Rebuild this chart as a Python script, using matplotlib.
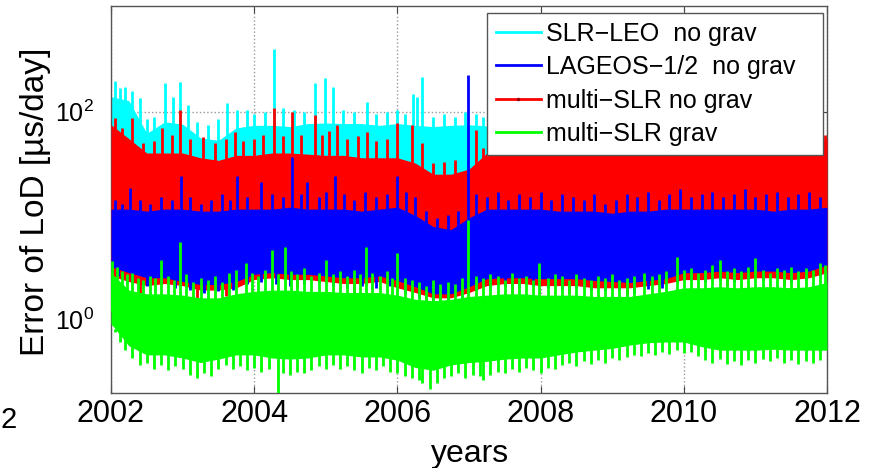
import numpy as np
import matplotlib
matplotlib.use('Agg')
import matplotlib.pyplot as plt
from matplotlib.lines import Line2D

plt.rcParams['font.family'] = ['Liberation Sans', 'DejaVu Sans']
plt.rcParams['mathtext.fontset'] = 'custom'
plt.rcParams['mathtext.rm'] = 'Liberation Sans'
plt.rcParams['mathtext.it'] = 'Liberation Sans:italic'

# ---------------- data ----------------
# sample epochs of the band envelopes (every quarter year)
years = np.linspace(2002.0, 2012.0, 41)

labels = ['SLR\u2212LEO  no grav', 'LAGEOS\u22121/2  no grav',
          'multi\u2212SLR no grav', 'multi\u2212SLR grav']
colors = ['#00FFFF', '#0000FF', '#FF0000', '#00FF00']

# SLR-LEO no grav (cyan)
cyan_top = [140, 128, 62, 80, 76, 56, 53, 70, 74, 74, 72, 77, 78, 77, 77, 74,
            77, 74, 72, 74, 75, 73, 72, 70, 70, 70, 70, 70, 70, 70, 70, 70,
            70, 70, 70, 70, 70, 70, 70, 35, 30]
cyan_low = [20, 20, 20, 20, 20, 20, 20, 20, 20, 20, 20, 20, 20, 20, 20, 20,
            20, 20, 18, 18, 18, 20, 20, 20, 20, 20, 20, 20, 20, 20, 20, 20,
            20, 20, 20, 20, 20, 20, 20, 20, 20]
cyan_spk_t = [2002.05, 2002.12, 2002.2, 2002.3, 2002.4, 2002.5, 2002.6, 2002.75,
              2002.87, 2002.96, 2003.08, 2003.2, 2003.35, 2003.5, 2003.62,
              2003.76, 2003.9, 2004.0, 2004.15, 2004.27, 2004.4, 2004.55,
              2004.7, 2004.85, 2004.99, 2005.1, 2005.24, 2005.4, 2005.58,
              2005.7, 2005.85, 2005.99, 2006.1, 2006.22, 2006.27, 2006.34,
              2006.5, 2006.65, 2006.8, 2006.95, 2007.1, 2007.2]
cyan_spk_v = [200, 170, 175, 160, 135, 85, 90, 190, 140, 195, 117, 80, 75, 85,
              122, 105, 105, 95, 100, 400, 110, 105, 100, 190, 213, 175, 105,
              100, 125, 95, 100, 105, 95, 150, 140, 218, 90, 95, 90, 100, 95, 90]

# multi-SLR no grav (red)
red_top = [75, 55, 40, 40, 40, 36, 34, 38, 38, 40, 40, 39, 38, 38, 36, 36,
           36, 32, 25, 25, 28, 40, 42, 42, 42, 42, 42, 42, 42, 42, 42, 42,
           42, 42, 42, 42, 42, 42, 42, 44, 55]
red_low = [2.6, 2.3, 2.1, 2.2, 2.1, 1.9, 1.9, 2.0, 2.4, 2.5, 2.4, 2.4, 2.3,
           2.2, 2.2, 2.3, 2.0, 1.8, 1.6, 1.6, 1.8, 2.1, 2.2, 2.2, 2.1, 2.1,
           2.1, 2.0, 2.0, 2.0, 2.1, 2.2, 2.4, 2.4, 2.5, 2.4, 2.5, 2.5, 2.4,
           2.5, 2.8]
red_up_t = [2002.05, 2002.15, 2002.3, 2002.45, 2002.6, 2002.71, 2002.85,
            2002.96, 2003.1, 2003.28, 2003.45, 2003.6, 2003.73, 2003.85,
            2004.0, 2004.12, 2004.27, 2004.4, 2004.53, 2004.65, 2004.85,
            2004.95, 2005.05, 2005.16, 2005.3, 2005.45, 2005.58, 2005.7,
            2005.85, 2006.0, 2006.2, 2006.34, 2006.5, 2006.65, 2006.8,
            2007.1, 2007.2, 2011.97]
red_up_v = [87, 70, 87, 50, 52, 70, 60, 105, 55, 57, 50, 55, 64, 52, 55, 60,
            110, 58, 100, 60, 94, 60, 65, 75, 55, 58, 64, 52, 55, 78, 75, 50,
            32, 33, 34, 67, 45, 60]
red_dn_t = [2002.4, 2003.2, 2003.6, 2004.6, 2005.4, 2006.4, 2006.6, 2007.6,
            2008.4, 2009.2, 2010.6, 2011.4]
red_dn_v = [1.8, 1.6, 1.65, 2.0, 1.8, 1.45, 1.4, 1.8, 1.8, 1.7, 2.1, 2.1]

# LAGEOS-1/2 no grav (blue)
blue_top = [11.5, 11.5, 11, 11.5, 11.5, 11, 11, 11.5, 11.5, 11.5, 12, 11.5,
            11.5, 11.5, 11, 11.5, 12, 10, 7.8, 7.3, 9.5, 11.5, 11.5, 11.5,
            11.5, 11, 11, 11, 10.5, 11, 11, 11.5, 11.5, 11.5, 11.5, 11.5,
            11.5, 11, 11.5, 11.5, 12]
blue_low = [3.2, 2.8, 2.5, 2.5, 2.3, 2.15, 2.15, 2.3, 2.7, 2.8, 2.7, 2.7, 2.6,
            2.5, 2.5, 2.6, 2.35, 2.05, 1.75, 1.75, 2.05, 2.45, 2.5, 2.5, 2.45,
            2.45, 2.45, 2.35, 2.3, 2.25, 2.35, 2.45, 2.8, 2.8, 2.9, 2.8, 2.9,
            2.9, 2.8, 2.9, 3.3]
blue_up_t = [2002.05, 2002.15, 2002.27, 2002.4, 2002.55, 2002.7, 2002.85,
             2002.98, 2003.1, 2003.25, 2003.4, 2003.55, 2003.66, 2003.76,
             2003.9, 2004.1, 2004.25, 2004.4, 2004.53, 2004.65, 2004.74,
             2004.9, 2005.0, 2005.13, 2005.25, 2005.4, 2005.55, 2005.7,
             2005.85, 2006.0, 2006.12, 2006.25, 2006.4, 2006.55, 2006.7,
             2006.85, 2006.99, 2007.1, 2007.25, 2007.4, 2007.55, 2007.7,
             2007.85, 2008.0, 2008.15, 2008.3, 2008.45, 2008.6, 2008.75,
             2008.9, 2009.05, 2009.2, 2009.35, 2009.5, 2009.65, 2009.8,
             2009.95, 2010.1, 2010.25, 2010.4, 2010.55, 2010.7, 2010.85,
             2011.0, 2011.15, 2011.3, 2011.45, 2011.6, 2011.75, 2011.9]
blue_up_v = [14, 13, 18.5, 14, 13, 15, 14, 24, 15, 13, 14, 16, 14, 24, 15, 21,
             16, 15, 37, 16, 21, 15, 17, 24, 16, 14, 17, 15, 16, 24, 17, 15,
             11, 9.5, 10, 11, 228, 16, 15, 17, 14, 16, 15, 17, 14, 16, 15, 14,
             16, 13, 14, 16, 15, 17, 14, 16, 18, 15, 16, 17, 15, 16, 18, 15,
             16, 17, 15, 16, 17, 15]
blue_dn_t = [2002.1, 2002.3, 2002.5, 2002.7, 2002.9, 2003.1, 2003.3, 2003.5,
             2003.7, 2003.9, 2004.1, 2004.3, 2004.5, 2004.7, 2004.9, 2005.1,
             2005.3, 2005.5, 2005.7, 2005.9, 2006.1, 2006.3, 2006.5, 2006.7,
             2006.9, 2007.1, 2007.3, 2007.5, 2007.7, 2007.9, 2008.1, 2008.3,
             2008.5, 2008.7, 2008.9, 2009.1, 2009.3, 2009.5, 2009.7, 2009.9,
             2010.1, 2010.3, 2010.5, 2010.7, 2010.9, 2011.1, 2011.3, 2011.5,
             2011.7, 2011.9]
blue_dn_v = [2.6, 2.3, 2.1, 2.2, 2.0, 1.9, 1.8, 1.85, 1.9, 2.2, 2.3, 2.2, 2.1,
             2.2, 2.3, 2.1, 2.0, 2.1, 2.0, 2.1, 1.8, 1.6, 1.45, 1.5, 1.6, 1.9,
             2.0, 2.1, 2.0, 2.1, 2.0, 1.95, 2.0, 1.9, 1.85, 1.9, 1.8, 1.95,
             2.0, 2.3, 2.4, 2.3, 2.4, 2.3, 2.5, 2.4, 2.5, 2.3, 2.4, 2.6]

# multi-SLR grav (green)
green_top = [2.8, 1.9, 1.75, 1.75, 1.7, 1.6, 1.6, 1.75, 1.85, 1.9, 1.9, 1.85,
             1.85, 1.8, 1.8, 1.8, 1.7, 1.55, 1.5, 1.55, 1.65, 1.7, 1.75, 1.75,
             1.7, 1.7, 1.7, 1.65, 1.65, 1.65, 1.75, 1.85, 2.0, 2.0, 2.05, 2.0,
             2.05, 2.05, 2.0, 2.05, 2.25]
green_low = [0.9, 0.55, 0.45, 0.45, 0.42, 0.38, 0.41, 0.45, 0.45, 0.42, 0.41,
             0.42, 0.45, 0.45, 0.43, 0.43, 0.4, 0.34, 0.32, 0.36, 0.38, 0.39,
             0.41, 0.42, 0.42, 0.45, 0.48, 0.5, 0.52, 0.56, 0.59, 0.6, 0.6,
             0.54, 0.5, 0.5, 0.5, 0.51, 0.5, 0.5, 0.5]
green_up_t = [2002.02, 2002.08, 2002.15, 2002.22, 2002.3, 2002.38, 2002.45,
              2002.55, 2002.62, 2002.7, 2002.8, 2002.88, 2002.96, 2003.05,
              2003.15, 2003.25, 2003.35, 2003.45, 2003.55, 2003.65, 2003.75,
              2003.88, 2003.97, 2004.05, 2004.15, 2004.25, 2004.33, 2004.43,
              2004.52, 2004.6, 2004.7, 2004.8, 2004.9, 2005.0, 2005.1, 2005.2,
              2005.3, 2005.4, 2005.48, 2005.56, 2005.65, 2005.75, 2005.85,
              2005.92, 2006.0, 2006.1, 2006.2, 2006.3, 2006.4, 2006.5, 2006.6,
              2006.7, 2006.8, 2006.9, 2006.99, 2007.1, 2007.2, 2007.3, 2007.4,
              2007.5, 2007.6, 2007.7, 2007.8, 2007.9, 2007.98, 2008.1, 2008.2,
              2008.3, 2008.4, 2008.5, 2008.6, 2008.7, 2008.8, 2008.9, 2009.0,
              2009.1, 2009.2, 2009.3, 2009.45, 2009.55, 2009.65, 2009.75,
              2009.9, 2010.0, 2010.1, 2010.2, 2010.3, 2010.4, 2010.5, 2010.6,
              2010.7, 2010.8, 2010.9, 2011.0, 2011.1, 2011.2, 2011.3, 2011.4,
              2011.5, 2011.6, 2011.7, 2011.8, 2011.9, 2011.97]
green_up_v = [3.6, 3.2, 2.9, 2.7, 2.8, 2.5, 2.4, 2.6, 2.5, 3.7, 2.6, 2.4, 5.5,
              2.7, 2.3, 2.5, 2.4, 2.6, 2.3, 2.8, 3.0, 3.5, 2.8, 2.6, 3.0, 4.6,
              2.7, 4.9, 2.9, 2.7, 3.1, 2.6, 2.8, 3.7, 2.7, 2.9, 2.6, 3.0, 2.7,
              4.9, 2.8, 2.6, 2.9, 2.5, 4.3, 2.5, 2.4, 2.3, 2.1, 2.4, 2.2, 2.3,
              2.2, 2.5, 9.0, 2.6, 2.5, 2.7, 2.6, 2.4, 2.8, 2.5, 2.6, 2.4, 3.5,
              2.5, 2.7, 2.6, 2.4, 2.7, 2.5, 2.4, 2.6, 2.5, 2.7, 2.4, 2.5, 2.6,
              2.8, 2.6, 2.7, 2.9, 4.0, 3.0, 3.1, 2.8, 3.0, 3.3, 3.7, 2.9, 3.1,
              2.9, 3.2, 3.9, 3.0, 2.8, 3.1, 3.0, 3.2, 2.9, 3.1, 3.0, 3.5, 3.3]
green_dn_t = [2002.05, 2002.12, 2002.2, 2002.3, 2002.4, 2002.5, 2002.6, 2002.7,
              2002.8, 2002.9, 2003.0, 2003.1, 2003.2, 2003.3, 2003.4, 2003.5,
              2003.6, 2003.7, 2003.8, 2003.9, 2004.0, 2004.1, 2004.2, 2004.33,
              2004.4, 2004.5, 2004.6, 2004.7, 2004.8, 2004.9, 2005.0, 2005.1,
              2005.2, 2005.3, 2005.4, 2005.5, 2005.6, 2005.7, 2005.8, 2005.9,
              2006.0, 2006.1, 2006.2, 2006.3, 2006.35, 2006.45, 2006.55,
              2006.65, 2006.75, 2006.85, 2006.95, 2007.05, 2007.15, 2007.2,
              2007.3, 2007.4, 2007.5, 2007.6, 2007.7, 2007.8, 2007.9, 2008.0,
              2008.1, 2008.2, 2008.3, 2008.4, 2008.5, 2008.6, 2008.7, 2008.8,
              2008.9, 2009.0, 2009.1, 2009.2, 2009.3, 2009.4, 2009.5, 2009.6,
              2009.7, 2009.8, 2009.9, 2010.0, 2010.1, 2010.2, 2010.3, 2010.4,
              2010.5, 2010.6, 2010.7, 2010.8, 2010.9, 2011.0, 2011.1, 2011.2,
              2011.3, 2011.4, 2011.5, 2011.6, 2011.7, 2011.8, 2011.9]
green_dn_v = [0.75, 0.6, 0.5, 0.42, 0.36, 0.38, 0.33, 0.36, 0.32, 0.35, 0.33,
              0.29, 0.27, 0.3, 0.28, 0.33, 0.36, 0.33, 0.35, 0.32, 0.34, 0.31,
              0.33, 0.15, 0.3, 0.29, 0.31, 0.3, 0.32, 0.35, 0.33, 0.36, 0.33,
              0.35, 0.32, 0.3, 0.34, 0.32, 0.35, 0.31, 0.3, 0.28, 0.27, 0.26,
              0.24, 0.21, 0.24, 0.27, 0.28, 0.3, 0.27, 0.29, 0.28, 0.26, 0.29,
              0.31, 0.3, 0.33, 0.31, 0.34, 0.32, 0.3, 0.34, 0.33, 0.36, 0.38,
              0.35, 0.39, 0.37, 0.4, 0.38, 0.42, 0.4, 0.43, 0.45, 0.44, 0.47,
              0.45, 0.48, 0.46, 0.5, 0.47, 0.48, 0.44, 0.4, 0.38, 0.41, 0.37,
              0.39, 0.36, 0.4, 0.38, 0.41, 0.39, 0.42, 0.38, 0.4, 0.37, 0.39,
              0.38, 0.4]

xticks = [2002, 2004, 2006, 2008, 2010, 2012]
yticks = [1, 100]

# ---------------- figure ----------------
fig = plt.figure(figsize=(8.79, 4.68), dpi=100)
ax = fig.add_axes([111 / 879, 1 - 393 / 468, 716 / 879, 387 / 468])
ax.set_yscale('log')
ax.set_xlim(2002, 2012)
ax.set_ylim(0.193, 1050)

spk_lw = 2.0


def band(lo, hi, col, z):
    ax.fill_between(years, lo, hi, color=col, lw=0, zorder=z)


def spikes(t, v, base, col, z):
    ax.vlines(t, base, v, colors=col, lw=spk_lw, zorder=z)


# cyan
band(cyan_low, cyan_top, colors[0], 2)
spikes(cyan_spk_t, cyan_spk_v, 40, colors[0], 2)
# red
band(red_low, red_top, colors[2], 3)
spikes(red_up_t, red_up_v, 20, colors[2], 3)
spikes(red_dn_t, red_dn_v, 5, colors[2], 3)
# blue
band(blue_low, blue_top, colors[1], 4)
spikes(blue_up_t, blue_up_v, 6, colors[1], 4)
spikes(blue_dn_t, blue_dn_v, 5, colors[1], 4)
# green
band(green_low, green_top, colors[3], 5)
spikes(green_up_t, green_up_v, 1.2, colors[3], 5)
spikes(green_dn_t, green_dn_v, 0.8, colors[3], 5)

# axes styling (MATLAB look)
ax.set_xticks(xticks)
ax.set_xticklabels([str(x) for x in xticks])
ax.set_yticks(yticks)
ax.yaxis.set_minor_locator(matplotlib.ticker.NullLocator())
ax.set_axisbelow(True)
ax.grid(True, which='major', ls=':', color='#999999', lw=1.0)
for s in ax.spines.values():
    s.set_color('#555555')
    s.set_linewidth(1.0)
ax.tick_params(axis='both', which='both', direction='in', length=5,
               top=True, right=True, color='#444444')
ax.tick_params(axis='x', labelsize=22, pad=4)
ax.tick_params(axis='y', labelsize=18, pad=12)

ax.set_ylabel('Error of LoD [\u00b5s/day]', fontsize=24)
ax.yaxis.set_label_coords(-0.084, 0.494)
ax.set_xlabel('years', fontsize=23)
ax.xaxis.set_label_coords(0.501, -0.118)

# legend
handles = [Line2D([], [], color=colors[0], lw=2),
           Line2D([], [], color=colors[1], lw=2),
           Line2D([], [], color=colors[2], lw=2, marker='.', ms=3,
                  mfc='#990000', mec='#990000'),
           Line2D([], [], color=colors[3], lw=2)]
leg = ax.legend(handles, labels, loc='upper left',
                bbox_to_anchor=(0.525, 0.607, 0.469, 0.375), mode='expand',
                borderaxespad=0, fontsize=18, handlelength=1.8,
                handletextpad=0.2, labelspacing=0.38, borderpad=0.35,
                fancybox=False, framealpha=1, edgecolor='#555555')
leg.get_frame().set_linewidth(1.0)
leg.set_zorder(10)

# tick label of the neighbouring panel, clipped at the far left
fig.text(0.0, 1 - 428 / 468, '2', fontsize=21, ha='left', va='baseline')

fig.savefig('out.png', dpi=100)
